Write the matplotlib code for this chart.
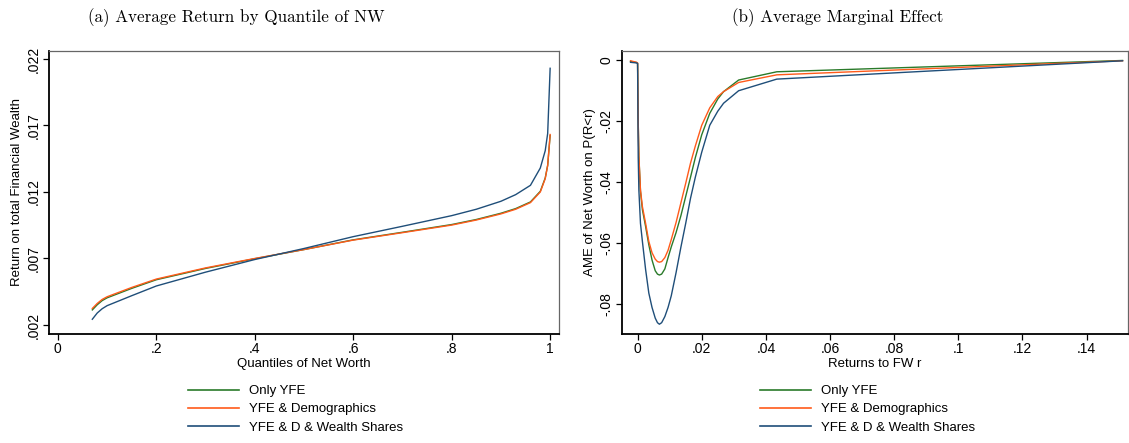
import matplotlib
matplotlib.use("Agg")
import matplotlib.pyplot as plt
from matplotlib.lines import Line2D

# ---------------- data ----------------
series_names = ["Only YFE", "YFE & Demographics", "YFE & D & Wealth Shares"]
colors = ["#2a7a2a", "#ff5a1a", "#1f4e79"]

# Panel (a): average return by quantile of net worth
q_x = [0.07, 0.08, 0.09, 0.10, 0.15, 0.20, 0.30, 0.40, 0.50, 0.60, 0.70,
       0.80, 0.85, 0.90, 0.93, 0.96, 0.98, 0.99, 0.995, 1.00]
ret_only_yfe = [0.00313, 0.00352, 0.00383, 0.00404, 0.00475, 0.00540, 0.00625,
                0.00698, 0.00767, 0.00840, 0.00897, 0.00955, 0.00993, 0.01040,
                0.01075, 0.01125, 0.01205, 0.01305, 0.01400, 0.01625]
ret_yfe_demo = [0.00324, 0.00362, 0.00392, 0.00412, 0.00482, 0.00545, 0.00629,
                0.00700, 0.00767, 0.00838, 0.00894, 0.00951, 0.00989, 0.01035,
                0.01070, 0.01120, 0.01200, 0.01300, 0.01400, 0.01632]
ret_yfe_d_ws = [0.00243, 0.00290, 0.00322, 0.00345, 0.00420, 0.00493, 0.00597,
                0.00692, 0.00775, 0.00864, 0.00942, 0.01022, 0.01070, 0.01130,
                0.01180, 0.01250, 0.01380, 0.01510, 0.01640, 0.02130]

# Panel (b): average marginal effect
r_x = [-0.0022, -0.0003, 0.0, 0.0002, 0.0004, 0.0009, 0.0015, 0.0025, 0.0035,
       0.0045, 0.0055, 0.0062, 0.0068, 0.0075, 0.0085, 0.0095, 0.0105, 0.0120,
       0.0135, 0.0150, 0.0165, 0.0180, 0.0200, 0.0225, 0.0250, 0.0268, 0.0315,
       0.0434, 0.1512]
ame_only_yfe = [-0.0005, -0.0009, -0.0011, -0.0207, -0.0316, -0.0430, -0.0490,
                -0.0545, -0.0605, -0.0655, -0.0690, -0.0701, -0.0704, -0.0701,
                -0.0684, -0.0647, -0.0612, -0.0565, -0.0510, -0.0447, -0.0384,
                -0.0320, -0.0245, -0.0175, -0.0128, -0.0104, -0.0066, -0.0039,
                -0.0002]
ame_yfe_demo = [-0.0003, -0.0008, -0.0010, -0.0207, -0.0316, -0.0426, -0.0480,
                -0.0535, -0.0594, -0.0631, -0.0652, -0.0660, -0.0662, -0.0660,
                -0.0647, -0.0623, -0.0588, -0.0532, -0.0468, -0.0404, -0.0338,
                -0.0282, -0.0214, -0.0157, -0.0120, -0.0104, -0.0074, -0.0049,
                -0.0003]
ame_yfe_d_ws = [-0.0008, -0.0010, -0.0012, -0.0320, -0.0426, -0.0535, -0.0594,
                -0.0686, -0.0763, -0.0810, -0.0845, -0.0860, -0.0865, -0.0860,
                -0.0840, -0.0810, -0.0772, -0.0696, -0.0613, -0.0535, -0.0453,
                -0.0384, -0.0302, -0.0214, -0.0168, -0.0142, -0.0101, -0.0063,
                -0.0003]

xticks_a = [0, 0.2, 0.4, 0.6, 0.8, 1.0]
xticklabels_a = ["0", ".2", ".4", ".6", ".8", "1"]
yticks_a = [0.002, 0.007, 0.012, 0.017, 0.022]
yticklabels_a = [".002", ".007", ".012", ".017", ".022"]

xticks_b = [0, 0.02, 0.04, 0.06, 0.08, 0.10, 0.12, 0.14]
xticklabels_b = ["0", ".02", ".04", ".06", ".08", ".1", ".12", ".14"]
yticks_b = [0, -0.02, -0.04, -0.06, -0.08]
yticklabels_b = ["0", "-.02", "-.04", "-.06", "-.08"]

# ---------------- figure ----------------
W, H = 1129, 443
fig = plt.figure(figsize=(W / 100, H / 100), dpi=100)
plt.rcParams["font.family"] = ["Liberation Sans", "DejaVu Sans"]

def px_axes(x0, x1, y0, y1):
    return fig.add_axes([x0 / W, 1 - y1 / H, (x1 - x0) / W, (y1 - y0) / H])

ax1 = px_axes(49, 559, 51, 334)
ax2 = px_axes(622, 1128, 51, 334)

lw = 1.0
for ys, c in zip([ret_only_yfe, ret_yfe_demo, ret_yfe_d_ws], colors):
    ax1.plot(q_x, ys, color=c, lw=lw)
for ys, c in zip([ame_only_yfe, ame_yfe_demo, ame_yfe_d_ws], colors):
    ax2.plot(r_x, ys, color=c, lw=lw)

ax1.set_xlim(-0.018, 1.018)
ax1.set_ylim(0.00132, 0.0226)
ax2.set_xlim(-0.00486, 0.1529)
ax2.set_ylim(-0.0897, 0.0029)

def style(ax, xt, xtl, yt, ytl, xlabel, ylabel):
    ax.set_xticks(xt)
    ax.set_xticklabels(xtl)
    ax.set_yticks(yt)
    ax.set_yticklabels(ytl, rotation=90, va="center")
    ax.tick_params(axis="both", direction="out", length=4, width=0.9,
                   labelsize=10, pad=2, color="black")
    for s in ["left", "bottom"]:
        ax.spines[s].set_color("black")
        ax.spines[s].set_linewidth(1.3)
    for s in ["top", "right"]:
        ax.spines[s].set_color("#666666")
        ax.spines[s].set_linewidth(0.9)
    ax.set_xlabel(xlabel, fontsize=9.5, labelpad=1)
    ax.set_ylabel(ylabel, fontsize=9.5, labelpad=3)

style(ax1, xticks_a, xticklabels_a, yticks_a, yticklabels_a,
      "Quantiles of Net Worth", "Return on total Financial Wealth")
style(ax2, xticks_b, xticklabels_b, yticks_b, yticklabels_b,
      "Returns to FW r", "AME of Net Worth on P(R<r)")

# titles
fig.text(236 / W, 1 - 18 / H, "(a) Average Return by Quantile of NW",
         family="cmr10", fontsize=12.3, ha="center", va="center")
fig.text(838 / W, 1 - 18 / H, "(b) Average Marginal Effect",
         family="cmr10", fontsize=12.3, ha="center", va="center")

# legends
handles = [Line2D([], [], color=c, lw=1.2) for c in colors]
for xl in [188, 760]:
    fig.legend(handles, series_names, loc="upper left",
               bbox_to_anchor=(xl / W, 1 - 385 / H), frameon=False,
               fontsize=9.5, handlelength=3.9, handletextpad=0.7,
               labelspacing=0.45, borderpad=0, borderaxespad=0)

fig.savefig("out.png", dpi=100)
